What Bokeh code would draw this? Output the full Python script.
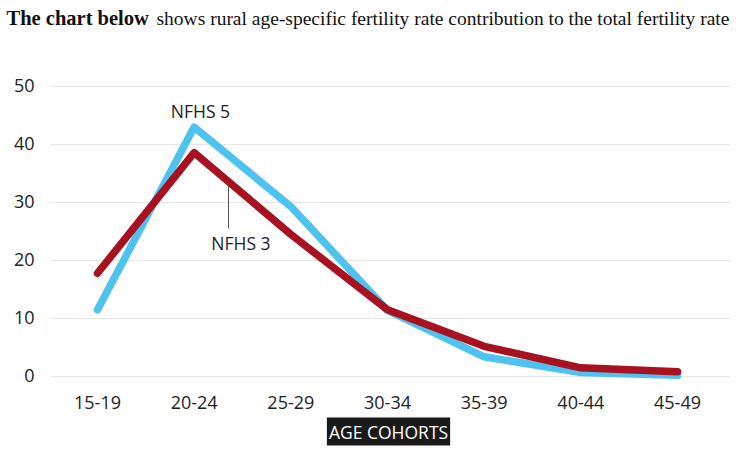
from bokeh.plotting import figure
from bokeh.models import Range1d, Label
from bokeh.core.properties import value
from bokeh.embed import file_html
from bokeh.resources import INLINE

cohorts = ["15-19", "20-24", "25-29", "30-34", "35-39", "40-44", "45-49"]
nfhs5 = [11.5, 43.0, 29.3, 11.4, 3.4, 0.7, 0.2]
nfhs3 = [17.8, 38.6, 24.5, 11.5, 5.2, 1.5, 0.8]
y_ticks = [0, 10, 20, 30, 40, 50]
y_tick_labels = ["0", "10", "20", "30", "40", "50"]
title_bold = "The chart below"
title_rest = "shows rural age-specific fertility rate contribution to the total fertility rate"
x_title = "AGE COHORTS"
series_names = ["NFHS 5", "NFHS 3"]

W, H = 736, 452
# pixel layout: first category centre / spacing, y value 0 and 50 positions
X0, DX = 97.0, 96.67
Y0, PXU = 376.0, 5.8


def px_x(px):
    return (px - X0) / DX


def px_y(py):
    return (Y0 - py) / PXU


BLUE = "#4ec3ef"
RED = "#a8111f"
SANS = "Open Sans"
SERIF = "Liberation Serif"
INK = "#222222"

xs = list(range(len(cohorts)))

p = figure(width=W, height=H, output_backend="svg", toolbar_location=None,
           x_range=Range1d(px_x(0), px_x(W)), y_range=Range1d(px_y(H), px_y(0)),
           min_border=0, min_border_left=0, min_border_right=0,
           min_border_top=0, min_border_bottom=0)
p.outline_line_color = None
p.xaxis.visible = False
p.yaxis.visible = False
p.xgrid.visible = False
p.ygrid.visible = False
p.background_fill_color = "white"
p.border_fill_color = "white"

# grid lines
p.segment(x0=[px_x(50)] * len(y_ticks), x1=[px_x(730)] * len(y_ticks), y0=y_ticks, y1=y_ticks,
          line_color="#e6e6e6", line_width=1)

# y tick labels
p.text(x=[px_x(34)] * len(y_ticks), y=y_ticks, text=y_tick_labels, text_align="right",
       text_baseline="middle", y_offset=-1, text_font=value(SANS), text_font_size="18px",
       text_color=INK)

# x tick labels
p.text(x=xs, y=[px_y(401.5)] * len(xs), text=cohorts, text_align="center",
       text_baseline="middle", text_font=value(SANS), text_font_size="18px", text_color=INK)

# series
p.line(xs, nfhs5, line_color=BLUE, line_width=7.5, line_join="round", line_cap="round")
p.line(xs, nfhs3, line_color=RED, line_width=7.5, line_join="round", line_cap="round")

# series annotations
p.text(x=[px_x(200), px_x(240.5)], y=[px_y(110.5), px_y(242)], text=series_names,
       text_align="center", text_baseline="middle",
       text_font=value(SANS), text_font_size="17.5px", text_color=INK)
p.segment(x0=[px_x(228)], y0=[px_y(185)], x1=[px_x(228)], y1=[px_y(228)],
          line_color="#555555", line_width=1)

# x axis title
p.add_layout(Label(x=px_x(388), y=px_y(431), text=x_title, text_align="center",
                   text_baseline="middle", text_font=SANS, text_font_size="17.5px",
                   text_color="white", background_fill_color="#1a1a1a", padding=2))

# chart title
p.text(x=[px_x(6)], y=[px_y(17.5)], text=[title_bold], text_align="left",
       text_baseline="middle", text_font=value(SERIF), text_font_style="bold",
       text_font_size="20.5px", text_color="#111111")
p.text(x=[px_x(156)], y=[px_y(17.5)], text=[title_rest], text_align="left",
       text_baseline="middle", text_font=value(SERIF),
       text_font_size="19.5px", text_color="#111111")

open("out.html", "w").write(file_html(p, INLINE))
